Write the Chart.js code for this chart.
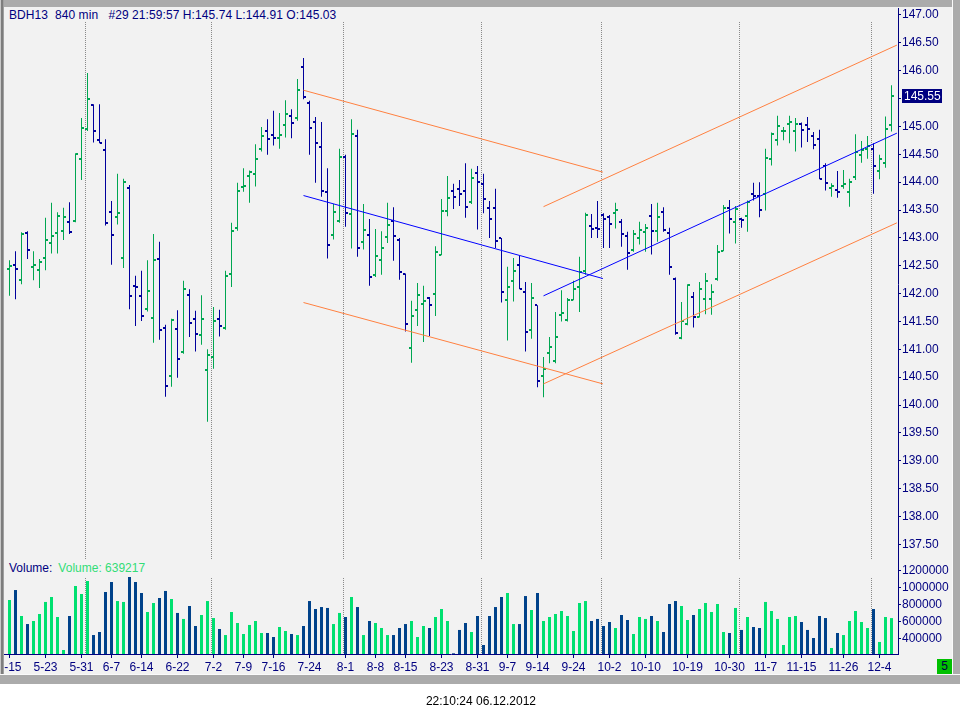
<!DOCTYPE html>
<html>
<head>
<meta charset="utf-8">
<title>BDH13 840 min</title>
<script src="https://cdn.jsdelivr.net/npm/chart.js@4.4.1/dist/chart.umd.min.js"></script>
<style>
  body { margin: 0; background: #fff; font-family: "Liberation Sans", Arial, sans-serif; }
  #wrap { position: relative; width: 960px; height: 719px; overflow: hidden; }
  #panel { position: absolute; left: 0; top: 0; width: 960px; height: 684px; background: #f2f2f2; }
  canvas { position: absolute; left: 0; }
  #priceChart { top: 8px; }
  #volChart { top: 560px; }
  .strip { position: absolute; left: 4px; width: 894px; background: #f2f2f2; font-size: 12px; white-space: pre; }
  #header { top: 8px; height: 14px; line-height: 14px; color: #000080; padding-left: 5px; box-sizing: border-box; letter-spacing: 0.08px; }
  #volLabel { top: 560px; height: 17px; line-height: 17px; padding-left: 5px; box-sizing: border-box; }
  #volLabel .v1 { color: #000080; }
  #volLabel .v2 { color: #33dd77; margin-left: 6px; }
  #topBand { position: absolute; left: 0; top: 0; width: 960px; height: 7px; background: #ababab; }
  #leftBand { position: absolute; left: 0; top: 0; width: 4px; height: 684px;
    background: linear-gradient(to right, #c8c8c8 0 1px, #7d7d7d 1px 3px, #a0a0a0 3px 4px); }
  #rightBand { position: absolute; left: 952px; top: 0; width: 8px; height: 684px;
    background: linear-gradient(to right, #fafafa 0 1px, #ababab 1px 8px); }
  #bottomBand { position: absolute; left: 0; top: 674px; width: 960px; height: 10px;
    background: linear-gradient(to bottom, #fafafa 0 1px, #ababab 1px 10px); }
  #pane5 { position: absolute; left: 937px; top: 659px; width: 15px; height: 15px; background: #00c000;
    color: #000040; font-size: 12px; line-height: 15px; text-align: center; }
  #clock { position: absolute; left: 0; top: 694px; width: 962px; text-align: center; font-size: 12px; color: #000; }
</style>
</head>
<body>
<div id="wrap">
  <div id="panel"></div>
  <canvas id="priceChart" width="960" height="552"></canvas>
  <canvas id="volChart" width="960" height="115"></canvas>
  <div id="header" class="strip">BDH13  840 min   #29 21:59:57 H:145.74 L:144.91 O:145.03</div>
  <div id="volLabel" class="strip"><span class="v1">Volume:</span><span class="v2">Volume: 639217</span></div>
  <div id="topBand"></div>
  <div id="leftBand"></div>
  <div id="rightBand"></div>
  <div id="bottomBand"></div>
  <div id="pane5">5</div>
  <div id="clock">22:10:24 06.12.2012</div>
</div>
<script>
// Daily bars, one per trading day from 5-15 to 12-6 (index 0..147)
const opens = [
  142.45,142.51,142.24,143.08,142.47,142.42,142.63,142.90,143.08,143.13,
  143.28,143.31,144.41,144.95,145.38,144.75,144.57,143.46,143.37,142.63,
  143.89,142.13,141.95,141.72,141.56,142.62,141.39,140.53,141.36,140.96,
  141.97,141.54,141.25,140.62,140.87,141.54,141.39,142.36,143.17,143.91,
  144.11,144.14,144.59,144.91,144.84,144.79,145.02,145.18,145.16,146.07,
  145.42,145.08,144.63,143.82,143.05,143.30,144.46,143.42,144.82,142.92,
  143.05,142.33,142.60,143.01,143.30,142.97,142.35,141.02,141.70,141.81,
  141.92,141.99,142.70,143.48,143.85,143.87,143.84,143.64,144.16,143.96,
  143.53,143.53,142.99,141.88,142.22,142.51,142.02,141.34,141.79,140.53,
  140.93,140.79,141.61,141.52,141.89,142.11,142.40,143.21,143.18,143.41,
  143.37,143.45,143.28,143.03,142.78,143.00,143.10,143.39,143.12,143.46,
  143.09,142.26,141.20,141.46,141.94,141.58,141.90,141.91,142.27,142.77,
  143.54,143.28,143.34,143.39,143.79,143.76,143.78,144.41,144.75,144.91,
  145.04,144.92,145.04,145.03,144.82,144.77,144.29,143.89,143.86,143.94,
  143.82,144.10,144.49,144.60,144.59,144.20,144.34,145.03
];
const highs = [
  142.60,142.76,143.10,143.12,142.76,142.62,143.36,143.63,143.46,143.54,
  143.64,144.52,145.15,145.96,145.40,145.40,144.77,143.66,144.15,144.06,
  143.95,142.32,142.41,142.60,143.07,142.93,141.44,141.55,141.70,142.23,
  142.08,141.69,141.97,141.00,141.76,141.71,142.41,143.27,143.99,144.25,
  144.21,144.68,144.99,145.13,145.28,145.24,145.47,145.31,145.85,146.23,
  145.46,145.17,145.08,144.25,143.61,144.60,144.49,145.13,144.94,143.61,
  143.34,143.16,143.12,143.63,143.55,143.00,142.36,141.87,142.19,142.14,
  141.94,142.85,143.70,144.11,143.97,144.04,144.34,144.24,144.29,144.15,
  143.66,143.88,143.00,142.48,142.64,142.68,142.21,142.19,141.79,140.86,
  141.22,141.67,142.06,141.92,142.23,142.66,143.45,143.43,143.66,143.44,
  143.41,143.63,143.34,143.11,143.14,143.29,143.25,143.61,143.63,143.55,
  143.18,142.29,141.85,142.17,142.03,142.21,142.37,142.17,142.87,143.59,
  143.68,143.57,143.36,143.67,143.99,144.00,144.60,144.89,145.19,144.99,
  145.19,145.15,145.07,145.17,144.90,144.94,144.34,143.98,144.20,144.22,
  144.06,144.86,144.74,144.83,144.70,144.49,145.18,145.74
];
const lows = [
  141.96,141.90,142.17,142.62,142.24,142.10,142.42,142.72,142.72,142.96,
  143.07,143.28,144.04,144.92,144.71,144.70,143.22,142.52,143.24,142.46,
  141.72,141.42,141.51,141.68,141.12,141.17,140.15,140.33,140.49,140.92,
  141.22,140.96,141.08,139.70,140.65,141.23,141.35,142.12,143.13,143.83,
  143.63,143.92,144.55,144.49,144.66,144.60,144.80,144.79,145.10,145.49,
  144.49,143.99,143.74,142.63,142.97,143.27,143.20,142.81,142.66,142.79,
  142.14,142.30,142.34,142.91,142.59,142.25,141.32,140.76,141.42,141.13,
  141.24,141.60,142.69,143.39,143.52,143.57,143.36,143.61,143.15,143.44,
  143.00,142.82,141.84,141.16,141.86,142.08,140.96,141.19,140.32,140.14,
  140.75,140.75,141.50,141.50,141.88,141.67,142.34,143.00,143.00,142.82,
  142.82,143.17,142.84,142.43,142.75,142.88,142.75,142.70,142.93,143.11,
  142.34,141.26,141.18,141.43,141.39,141.57,141.63,141.62,142.23,142.76,
  143.08,142.90,143.18,143.11,143.67,143.37,143.49,144.30,144.66,144.75,
  144.70,144.55,144.62,144.72,144.59,144.05,143.85,143.74,143.72,143.88,
  143.56,144.04,144.35,144.42,143.79,144.05,144.26,144.91
];
const closes = [
  142.49,142.45,143.07,142.79,142.52,142.56,142.96,143.03,143.40,143.37,
  143.10,144.50,144.98,145.49,144.91,144.70,143.26,143.06,143.44,144.00,
  141.95,142.11,141.59,142.04,142.60,141.34,140.35,141.52,140.82,142.08,
  141.48,141.27,141.54,140.89,141.50,141.41,142.31,143.12,143.85,143.94,
  144.18,144.41,144.82,144.77,144.80,144.84,145.22,145.07,145.65,145.52,
  144.98,144.70,143.85,142.87,143.46,144.46,143.44,144.86,142.81,143.15,
  142.29,142.67,142.81,143.24,143.03,142.38,141.45,141.59,141.97,141.86,
  141.79,142.74,143.49,143.71,143.73,143.78,143.55,144.07,144.00,143.69,
  143.33,142.94,142.02,142.11,142.40,142.08,141.31,141.92,140.43,140.64,
  141.05,141.23,141.65,141.88,142.08,142.38,143.41,143.16,143.16,143.34,
  143.25,143.50,143.07,142.73,143.07,143.15,143.17,143.12,143.37,143.15,
  142.48,141.29,141.50,142.15,141.58,142.08,142.22,142.03,142.75,143.54,
  143.34,143.52,143.32,143.64,143.76,143.50,144.43,144.87,145.01,144.92,
  145.08,145.04,144.93,144.95,144.66,144.05,143.98,143.93,143.82,143.97,
  144.00,144.54,144.58,144.64,144.29,144.41,144.95,145.55
];
const volumes = [
  853000,971000,664000,569000,605000,688000,830000,889000,652000,262000,
  664000,1019000,924000,1078000,439000,475000,948000,1066000,841000,830000,
  1137000,1066000,936000,711000,818000,877000,960000,865000,700000,629000,
  782000,546000,676000,841000,640000,510000,439000,711000,581000,451000,
  558000,605000,463000,463000,416000,534000,487000,451000,439000,546000,
  841000,747000,770000,759000,569000,700000,652000,889000,770000,439000,
  605000,581000,522000,439000,439000,522000,569000,605000,416000,546000,
  522000,652000,747000,605000,223000,499000,581000,475000,664000,321000,
  664000,770000,889000,936000,569000,569000,900000,735000,936000,605000,
  652000,688000,723000,664000,487000,818000,841000,605000,629000,546000,
  593000,522000,676000,617000,451000,652000,629000,664000,605000,475000,
  806000,841000,782000,617000,676000,747000,818000,711000,806000,475000,
  463000,759000,499000,652000,534000,522000,830000,723000,629000,321000,
  652000,664000,593000,499000,404000,664000,640000,286000,463000,439000,
  605000,723000,593000,522000,747000,357000,652000,639217
];

// x-axis date labels and the bar index they sit on
const tickIdx  = [0, 6, 12, 17, 22, 28, 34, 39, 44, 50, 56, 61, 66, 72, 78, 83, 88, 94, 100, 106, 113, 120, 126, 132, 139, 145];
const tickText = ['5-15','5-23','5-31','6-7','6-14','6-22','7-2','7-9','7-16','7-24','8-1','8-8','8-15','8-23','8-31',
                  '9-7','9-14','9-24','10-2','10-10','10-19','10-30','11-7','11-15','11-26','12-4'];
// first bar of each month (dotted separators)
const monthStarts = [13, 34, 56, 79, 99, 122, 144];

const priceTicks = [137.5,138,138.5,139,139.5,140,140.5,141,141.5,142,142.5,143,143.5,144,144.5,145,145.5,146,146.5,147];
const volTicks = [400000, 600000, 800000, 1000000, 1200000];

// drawn trend channels: [bar index, price]
const chanUpperLeft  = [[49, 145.65], [98.9, 144.18]];
const chanMidLeft    = [[49, 143.76], [98.9, 142.27]];
const chanLowerLeft  = [[49, 141.84], [98.9, 140.38]];
const chanUpperRight = [[89, 143.56], [147.9, 146.46]];
const chanMidRight   = [[89, 141.96], [147.9, 144.88]];
const chanLowerRight = [[89, 140.38], [147.9, 143.27]];

const NAVY = '#000080';
const UP = '#00a651', DOWN = '#00009c';
const VOL_UP = '#00e070', VOL_DOWN = '#00428a';
const ORANGE = '#ff8040', LINE_BLUE = '#0000ff';

const up = closes.map((c, i) => c >= opens[i]);

// 6 px per bar, first bar centred at x = 9.5
const xMin = -5.5 / 6;
const xMax = xMin + 149;

Chart.defaults.font.family = '"Liberation Sans", Arial, sans-serif';
Chart.defaults.font.size = 12;

// small open / close ticks, drawn left / right of the bar line
function tickImage(color, left) {
    const c = document.createElement('canvas');
    c.width = 7;
    c.height = 2;
    const g = c.getContext('2d');
    g.fillStyle = color;
    g.fillRect(left ? 1 : 4, 0, 2, 2);
    return c;
}
const openUp = tickImage(UP, true), openDown = tickImage(DOWN, true);
const closeUp = tickImage(UP, false), closeDown = tickImage(DOWN, false);

function trendLine(points, color) {
    return {
        type: 'line',
        data: points.map(p => ({ x: p[0], y: p[1] })),
        borderColor: color,
        borderWidth: 1,
        pointRadius: 0,
        tension: 0,
        fill: false
    };
}

const monthGrid = {
    type: 'linear',
    min: xMin,
    max: xMax,
    offset: false,
    ticks: { display: false },
    grid: { color: '#8a8a8a', drawTicks: false, offset: false },
    border: { display: false, dash: [1, 1] },
    afterBuildTicks: s => { s.ticks = monthStarts.map(i => ({ value: i - 1 / 3 })); },
    afterFit: s => { s.height = 0; s.paddingLeft = 0; s.paddingRight = 0; }
};

// keep the tiny open/close squares crisp
const crispTicks = {
    id: 'crispTicks',
    beforeDatasetsDraw(chart) { chart.ctx.imageSmoothingEnabled = false; }
};

// Last price tag on the right axis
const lastPriceTag = {
    id: 'lastPriceTag',
    afterDraw(chart) {
        const { ctx, chartArea, scales } = chart;
        const last = closes[closes.length - 1];
        const y = Math.round(scales.y.getPixelForValue(last));
        ctx.save();
        ctx.fillStyle = NAVY;
        ctx.fillRect(chartArea.right + 4, y - 7, 40, 14);
        ctx.fillStyle = '#ffffff';
        ctx.font = '12px "Liberation Sans", Arial, sans-serif';
        ctx.textBaseline = 'middle';
        ctx.fillText(last.toFixed(2), chartArea.right + 6, y + 0.5);
        ctx.restore();
    }
};

new Chart(document.getElementById('priceChart'), {
    type: 'scatter',
    data: {
        datasets: [
            trendLine(chanUpperLeft, ORANGE),
            trendLine(chanLowerLeft, ORANGE),
            trendLine(chanMidLeft, LINE_BLUE),
            trendLine(chanUpperRight, ORANGE),
            trendLine(chanLowerRight, ORANGE),
            trendLine(chanMidRight, LINE_BLUE),
            {
                type: 'scatter',
                data: opens.map((o, i) => ({ x: i, y: o })),
                pointStyle: c => (up[c.dataIndex] ? openUp : openDown),
                pointRadius: 3
            },
            {
                type: 'scatter',
                data: closes.map((c, i) => ({ x: i, y: c })),
                pointStyle: c => (up[c.dataIndex] ? closeUp : closeDown),
                pointRadius: 3
            },
            {
                type: 'bar',
                data: lows.map((l, i) => ({ x: i, y: [l, highs[i]] })),
                backgroundColor: up.map(u => (u ? UP : DOWN)),
                barThickness: 1,
                inflateAmount: 0,
                borderWidth: 0,
                grouped: false
            }
        ]
    },
    options: {
        responsive: false,
        animation: false,
        events: [],
        layout: { autoPadding: false, padding: { left: 4, right: 0, top: 0, bottom: 0 } },
        plugins: { legend: { display: false }, tooltip: { enabled: false } },
        scales: {
            x: monthGrid,
            y: {
                type: 'linear',
                position: 'right',
                min: 137.219,
                max: 147.1256,
                afterBuildTicks: s => { s.ticks = priceTicks.map(v => ({ value: v })); },
                ticks: { color: NAVY, padding: 1, autoSkip: false, callback: v => v.toFixed(2) },
                grid: { drawOnChartArea: false, drawTicks: true, tickLength: 3, color: NAVY },
                border: { color: NAVY },
                afterFit: s => { s.width = 62; s.paddingTop = 0; s.paddingBottom = 0; }
            }
        }
    },
    plugins: [crispTicks, lastPriceTag]
});

new Chart(document.getElementById('volChart'), {
    type: 'bar',
    data: {
        datasets: [{
            data: volumes.map((v, i) => ({ x: i, y: v })),
            backgroundColor: up.map(u => (u ? VOL_UP : VOL_DOWN)),
            barThickness: 3,
            inflateAmount: 0,
            borderWidth: 0,
            grouped: false
        }]
    },
    options: {
        responsive: false,
        animation: false,
        events: [],
        layout: { autoPadding: false, padding: { left: 4, right: 0, top: 0, bottom: 0 } },
        plugins: { legend: { display: false }, tooltip: { enabled: false } },
        scales: {
            x: {
                type: 'linear',
                min: xMin,
                max: xMax,
                offset: false,
                afterBuildTicks: s => { s.ticks = tickIdx.map(v => ({ value: v })); },
                ticks: { color: NAVY, padding: 2, autoSkip: false, maxRotation: 0, minRotation: 0,
                         callback: (v, i) => tickText[i] },
                grid: { drawOnChartArea: false, drawTicks: true, tickLength: 4, color: NAVY, offset: false },
                border: { color: NAVY },
                afterFit: s => { s.height = 21; s.paddingLeft = 0; s.paddingRight = 0; }
            },
            x2: Object.assign({}, monthGrid, { position: 'top' }),
            y: {
                type: 'linear',
                position: 'right',
                min: 214700,
                max: 1326100,
                afterBuildTicks: s => { s.ticks = volTicks.map(v => ({ value: v })); },
                ticks: { color: NAVY, padding: 1, autoSkip: false, callback: v => String(v) },
                grid: { drawOnChartArea: false, drawTicks: true, tickLength: 3, color: NAVY },
                border: { color: NAVY },
                afterFit: s => { s.width = 62; s.paddingTop = 0; s.paddingBottom = 0; }
            }
        }
    }
});
</script>
</body>
</html>
